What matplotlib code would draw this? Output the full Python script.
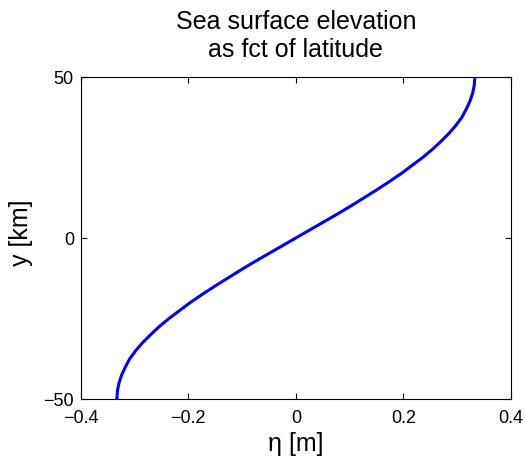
import numpy as np
import matplotlib
matplotlib.use("Agg")
import matplotlib.pyplot as plt

plt.rcParams['font.family'] = ['Liberation Sans', 'DejaVu Sans']

# latitude [km] and sea surface elevation [m]
y_km = [-50, -47.5, -45, -42.5, -40, -37.5, -35, -32.5, -30, -27.5, -25, -22.5,
        -20, -17.5, -15, -12.5, -10, -7.5, -5, -2.5, 0,
        2.5, 5, 7.5, 10, 12.5, 15, 17.5, 20, 22.5, 25, 27.5, 30, 32.5, 35,
        37.5, 40, 42.5, 45, 47.5, 50]
eta_m = [-0.333, -0.332, -0.329, -0.324, -0.317, -0.309, -0.298, -0.285, -0.270,
         -0.254, -0.236, -0.216, -0.196, -0.174, -0.151, -0.127, -0.103, -0.078,
         -0.052, -0.026, 0.0,
         0.026, 0.052, 0.078, 0.103, 0.127, 0.151, 0.174, 0.196, 0.216, 0.236,
         0.254, 0.270, 0.285, 0.298, 0.309, 0.317, 0.324, 0.329, 0.332, 0.333]

xticks = [-0.4, -0.2, 0, 0.2, 0.4]
yticks = [-50, 0, 50]

fig = plt.figure(figsize=(5.25, 4.64), dpi=100)
ax = fig.add_axes([0.154, 0.138, 0.819, 0.694])
ax.plot(eta_m, y_km, color='#0000ff', lw=2.2)

ax.set_xlim(-0.4, 0.4)
ax.set_ylim(-50, 50)
ax.set_xticks(xticks)
ax.set_yticks(yticks)
ax.set_xticklabels(['\u22120.4', '\u22120.2', '0', '0.2', '0.4'])
ax.set_yticklabels(['\u221250', '0', '50'])
ax.tick_params(direction='in', top=True, right=True, labelsize=13, length=4)
ax.tick_params(axis='x', pad=7)
ax.tick_params(axis='y', pad=5)
ax.set_xlabel('\u03b7 [m]', fontsize=18)
ax.set_ylabel('y [km]', fontsize=18)
ax.xaxis.set_label_coords(0.5, -0.1)
ax.yaxis.set_label_coords(-0.112, 0.52)
ax.set_title('Sea surface elevation\nas fct of latitude', fontsize=18, pad=15)

fig.savefig('out.png', dpi=100)
